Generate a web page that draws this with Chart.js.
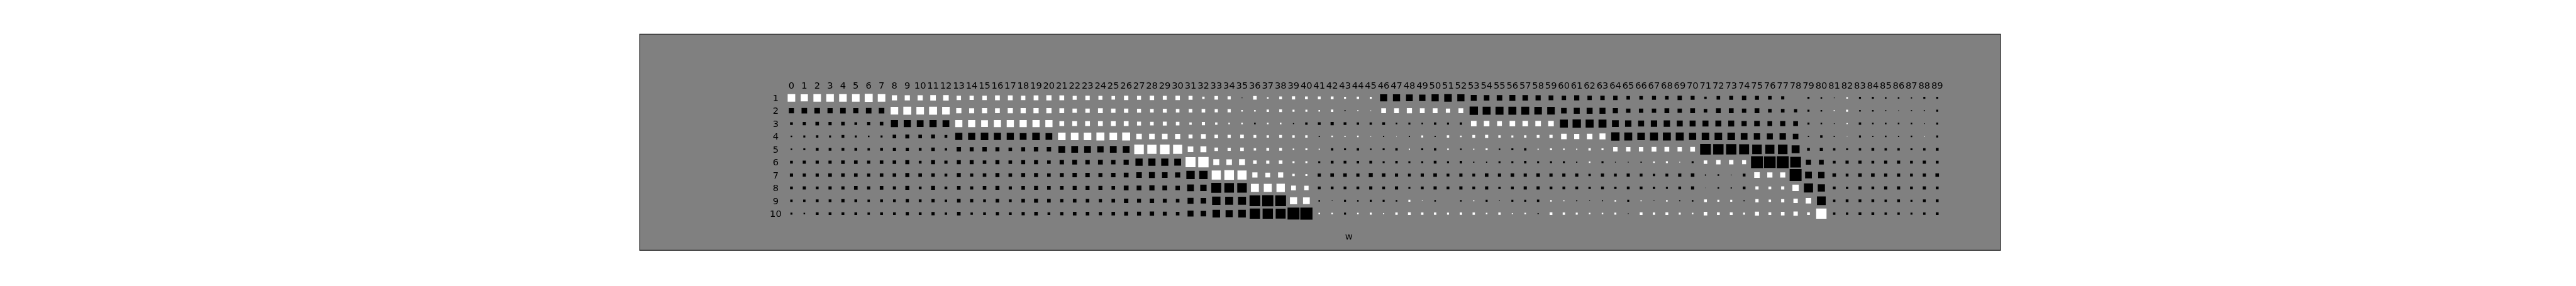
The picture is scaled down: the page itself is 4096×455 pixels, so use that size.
<!DOCTYPE html>
<html>
<head>
<meta charset="utf-8">
<script src="https://cdn.jsdelivr.net/npm/chart.js@4/dist/chart.umd.min.js"></script>
<style>
html,body{margin:0;padding:0;background:#ffffff;overflow:hidden}
canvas{display:block}
</style>
</head>
<body>
<canvas id="c" width="4096" height="455"></canvas>
<script>
// ---------- data ----------
const columnLabels = ['0','1','2','3','4','5','6','7','8','9','10','11','12','13','14','15','16','17','18','19',
  '20','21','22','23','24','25','26','27','28','29','30','31','32','33','34','35','36','37','38','39',
  '40','41','42','43','44','45','46','47','48','49','50','51','52','53','54','55','56','57','58','59',
  '60','61','62','63','64','65','66','67','68','69','70','71','72','73','74','75','76','77','78','79',
  '80','81','82','83','84','85','86','87','88','89'];
const rowLabels = ['1','2','3','4','5','6','7','8','9','10'];
const axisText = 'w';

// weights, one array per row (positive = white, negative = black)
const row1 = [0.345,0.310,0.345,0.345,0.345,0.345,0.383,0.345, 0.162,0.162,0.162,0.187,0.187,0.116,0.109,
  0.116,0.138,0.138,0.116,0.138,0.162,0.138,0.096,0.116,0.096,0.077,0.116,0.096,0.116,0.096,
  0.116,0.096,0.034,0.077,0.061,-0.004,0.077,0.015,0.047,0.061,0.047,0.047,0.047,0.024,0.034,
  0.024,-0.310,-0.310,-0.276,-0.245,-0.310,-0.345,-0.310,-0.215,-0.187,-0.187,-0.215,-0.187,-0.162,-0.138,
  -0.116,-0.162,-0.116,-0.116,-0.116,-0.077,-0.077,-0.096,-0.077,-0.116,-0.096,-0.034,-0.077,-0.096,-0.116,
  -0.096,-0.077,-0.061,0,-0.024,-0.015,-0.004,0.015,-0.024,-0.024,-0.015,-0.015,-0.009,-0.024,-0.024];
const row2 = [-0.162,-0.187,-0.187,-0.162,-0.187,-0.162,-0.187,-0.187, 0.345,0.383,0.345,0.383,0.345,0.162,0.153,
  0.162,0.138,0.162,0.162,0.162,0.162,0.138,0.116,0.116,0.138,0.116,0.116,0.096,0.077,0.096,
  0.077,0.077,0.077,0.061,0.061,0.015,0.015,0.034,0.047,0.024,0.024,0.015,0.034,-0.009,0.009,
  0.004,0.138,0.138,0.162,0.138,0.138,0.116,0.138,-0.422,-0.383,-0.383,-0.383,-0.383,-0.345,-0.345,
  -0.187,-0.215,-0.215,-0.215,-0.162,-0.116,-0.116,-0.116,-0.138,-0.116,-0.138,-0.077,-0.138,-0.138,-0.116,
  -0.138,-0.077,-0.077,-0.061,-0.024,-0.015,0.009,0.024,-0.015,-0.015,-0.009,-0.004,-0.009,-0.009,-0.024];
const row3 = [-0.047,-0.061,-0.077,-0.061,-0.077,-0.047,-0.061,-0.077, -0.310,-0.310,-0.276,-0.310,-0.276,0.310,0.310,
  0.276,0.310,0.310,0.310,0.310,0.310,0.138,0.138,0.138,0.138,0.138,0.138,0.096,0.077,0.096,
  0.077,0.034,0.061,0.034,0.015,0.015,-0.015,0.015,0.015,-0.009,-0.034,-0.047,-0.061,-0.047,-0.034,
  -0.034,-0.047,-0.015,-0.024,-0.015,-0.034,-0.024,-0.034,0.187,0.187,0.138,0.187,0.187,0.187,0.187,
  -0.383,-0.422,-0.383,-0.383,-0.276,-0.245,-0.215,-0.245,-0.245,-0.215,-0.215,-0.215,-0.215,-0.215,-0.162,
  -0.187,-0.138,-0.162,-0.138,-0.024,-0.015,-0.004,0.009,-0.034,-0.015,-0.015,-0.015,-0.015,-0.004,-0.024];
const row4 = [-0.015,-0.024,-0.034,-0.024,-0.047,-0.024,-0.015,-0.024, -0.077,-0.096,-0.077,-0.096,-0.047,-0.310,-0.310,
  -0.345,-0.310,-0.310,-0.276,-0.345,-0.276,0.345,0.345,0.345,0.383,0.345,0.383,0.187,0.187,0.187,
  0.162,0.096,0.138,0.077,0.061,0.077,0.047,0.034,0.047,0.034,0.034,-0.009,0.015,0.009,0.015,
  0.004,-0.009,0.002,-0.009,0.024,-0.009,0.034,0.015,0.047,0.061,0.034,0.024,0.034,0.047,0.061,
  0.187,0.162,0.187,0.215,-0.422,-0.383,-0.345,-0.383,-0.383,-0.383,-0.310,-0.345,-0.345,-0.345,-0.276,
  -0.245,-0.215,-0.245,-0.187,-0.009,-0.034,-0.009,0.002,-0.024,-0.009,-0.015,-0.009,-0.015,0.004,-0.024];
const row5 = [-0.015,-0.024,-0.047,-0.047,-0.047,-0.047,-0.034,-0.047, -0.061,-0.061,-0.047,-0.077,-0.034,-0.116,-0.096,
  -0.116,-0.096,-0.077,-0.096,-0.116,-0.116,-0.276,-0.276,-0.276,-0.245,-0.276,-0.276,0.551,0.506,0.551,
  0.506,0.187,0.215,0.077,0.061,0.077,0.034,0.047,0.047,0.015,0.024,0.009,-0.034,-0.024,-0.034,
  -0.015,-0.024,-0.034,0.009,-0.024,-0.034,0.015,-0.015,0.009,0.024,-0.015,-0.024,-0.034,0.009,0.024,
  0.015,0.009,0.034,0.024,0.116,0.116,0.116,0.138,0.138,0.116,0.138,-0.697,-0.647,-0.647,-0.598,
  -0.551,-0.506,-0.551,-0.383,-0.047,-0.061,-0.034,-0.024,-0.034,-0.047,-0.034,-0.034,-0.024,-0.034,-0.047];
const row6 = [-0.047,-0.061,-0.061,-0.061,-0.077,-0.077,-0.061,-0.077, -0.077,-0.096,-0.047,-0.096,-0.061,-0.096,-0.096,
  -0.077,-0.096,-0.077,-0.096,-0.096,-0.077,-0.116,-0.138,-0.116,-0.138,-0.116,-0.162,-0.310,-0.310,-0.310,
  -0.276,0.598,0.647,0.215,0.187,0.215,0.077,0.061,0.077,0.024,0.024,-0.024,-0.047,-0.047,-0.034,
  -0.047,-0.024,-0.034,-0.024,-0.024,-0.047,-0.024,-0.034,-0.009,-0.009,-0.024,-0.024,-0.034,-0.024,-0.024,
  -0.024,-0.009,0.015,-0.024,-0.004,-0.004,-0.009,0.015,0.024,0.004,-0.024,0.077,0.116,0.116,0.096,
  -0.861,-0.804,-0.861,-0.697,-0.162,-0.138,-0.047,-0.061,-0.061,-0.047,-0.061,-0.061,-0.047,-0.061,-0.047];
const row7 = [-0.061,-0.061,-0.061,-0.077,-0.077,-0.077,-0.061,-0.077, -0.077,-0.096,-0.077,-0.077,-0.047,-0.096,-0.061,
  -0.077,-0.096,-0.077,-0.096,-0.096,-0.077,-0.096,-0.116,-0.116,-0.096,-0.116,-0.138,-0.187,-0.215,-0.187,
  -0.162,-0.422,-0.422,0.506,0.551,0.506,0.162,0.138,0.162,0.034,0.024,-0.061,-0.077,-0.077,-0.061,
  -0.096,-0.077,-0.061,-0.047,-0.061,-0.077,-0.047,-0.061,-0.047,-0.077,-0.061,-0.077,-0.061,-0.077,-0.061,
  -0.061,-0.061,-0.034,-0.061,-0.047,-0.061,-0.047,-0.034,-0.047,-0.061,-0.077,-0.009,-0.015,-0.004,-0.047,
  0.187,0.162,0.162,-0.861,-0.276,-0.245,-0.077,-0.047,-0.077,-0.077,-0.061,-0.061,-0.047,-0.061,-0.077];
const row8 = [-0.047,-0.061,-0.047,-0.061,-0.061,-0.077,-0.061,-0.077, -0.061,-0.096,-0.047,-0.096,-0.047,-0.077,-0.061,
  -0.077,-0.096,-0.061,-0.077,-0.096,-0.077,-0.077,-0.096,-0.096,-0.096,-0.077,-0.138,-0.138,-0.162,-0.138,
  -0.116,-0.276,-0.245,-0.598,-0.551,-0.551,0.383,0.383,0.422,0.138,0.116,-0.047,-0.047,-0.047,-0.047,
  -0.061,-0.047,-0.061,-0.024,-0.047,-0.061,-0.047,-0.061,-0.047,-0.061,-0.034,-0.047,-0.061,-0.061,-0.047,
  -0.047,-0.047,-0.034,-0.047,-0.034,-0.047,-0.047,-0.034,-0.024,-0.047,-0.061,-0.001,-0.015,-0.009,-0.047,
  0.061,0.047,0.061,0.245,-0.506,-0.310,-0.047,-0.034,-0.061,-0.047,-0.061,-0.061,-0.047,-0.061,-0.047];
const row9 = [-0.034,-0.034,-0.047,-0.047,-0.061,-0.047,-0.034,-0.047, -0.047,-0.061,-0.047,-0.061,-0.034,-0.077,-0.061,
  -0.047,-0.077,-0.047,-0.077,-0.096,-0.077,-0.061,-0.077,-0.077,-0.061,-0.077,-0.116,-0.096,-0.116,-0.096,
  -0.077,-0.215,-0.187,-0.422,-0.383,-0.383,-0.697,-0.750,-0.697,0.310,0.276,-0.015,-0.004,-0.024,-0.015,
  -0.024,-0.024,-0.015,0.024,0.004,-0.015,0,-0.015,0.009,-0.024,-0.004,-0.024,-0.024,-0.034,0.015,
  0.009,-0.009,-0.004,-0.009,0.015,-0.024,0.009,-0.004,0.015,-0.009,-0.015,0.047,0.024,0.024,-0.009,
  0.061,0.034,0.061,0.116,0.187,-0.463,-0.034,-0.047,-0.047,-0.047,-0.034,-0.047,-0.024,-0.047,-0.047];
const row10 = [-0.024,-0.015,-0.047,-0.047,-0.047,-0.047,-0.034,-0.047, -0.047,-0.061,-0.047,-0.061,-0.034,-0.077,-0.034,
  -0.047,-0.061,-0.047,-0.061,-0.077,-0.047,-0.061,-0.077,-0.077,-0.061,-0.077,-0.096,-0.096,-0.116,-0.096,
  -0.077,-0.215,-0.187,-0.345,-0.310,-0.345,-0.647,-0.647,-0.598,-0.861,-0.900,0.015,0.015,-0.024,0.015,
  0.024,0.009,0.034,0.047,0.034,0.034,0.024,0.034,0.034,0.015,0.034,0.009,0.015,-0.009,0.047,
  0.034,0.024,0.015,0.015,0.024,-0.004,0.047,0.034,0.047,0.024,0.015,0.077,0.047,0.047,0.024,
  0.096,0.047,0.077,0.116,0.047,0.647,-0.034,-0.034,-0.047,-0.047,-0.034,-0.034,-0.024,-0.034,-0.047];
const weightRows = [row1,row2,row3,row4,row5,row6,row7,row8,row9,row10];
const maxWeight = 1;

// ---------- build points ----------
const points = [];
weightRows.forEach((row, ri) => {
  row.forEach((w, ci) => {
    points.push({ x: Number(columnLabels[ci]), y: Number(rowLabels[ri]), w: w });
  });
});

const FONT = '14.7px "DejaVu Sans", sans-serif';
const FS = 14.7;

const panelPlugin = {
  id: 'panel',
  beforeDraw(chart) {
    const { ctx, chartArea: a } = chart;
    ctx.save();
    ctx.fillStyle = '#808080';
    ctx.fillRect(a.left, a.top, a.right - a.left, a.bottom - a.top);
    ctx.restore();
  },
  afterDraw(chart) {
    const { ctx, chartArea: a, scales } = chart;
    const xs = scales.x, ys = scales.y;
    ctx.save();
    ctx.fillStyle = '#000000';
    ctx.font = FONT;
    ctx.textAlign = 'center';
    ctx.textBaseline = 'alphabetic';
    const digitOff = 0.3645 * FS;
    // column labels (at row 0)
    columnLabels.forEach(lbl => {
      ctx.fillText(lbl, xs.getPixelForValue(Number(lbl)), ys.getPixelForValue(0.02) + digitOff);
    });
    // row labels (at column -1.22)
    rowLabels.forEach(lbl => {
      ctx.fillText(lbl, xs.getPixelForValue(-1.22), ys.getPixelForValue(Number(lbl)) + digitOff);
    });
    // bottom text
    ctx.fillText(axisText, xs.getPixelForValue(43.3), ys.getPixelForValue(11.8) + 0.273 * FS);
    // frame
    ctx.strokeStyle = '#1e1e1e';
    ctx.lineWidth = 1.2;
    ctx.strokeRect(a.left, a.top, a.right - a.left, a.bottom - a.top);
    ctx.restore();
  }
};

new Chart(document.getElementById('c'), {
  type: 'scatter',
  data: {
    datasets: [{
      data: points,
      pointStyle: 'rect',
      borderWidth: 0,
      pointBorderWidth: 0,
      backgroundColor: ctx => (ctx.raw && ctx.raw.w > 0) ? '#ffffff' : '#000000',
      pointBackgroundColor: ctx => (ctx.raw && ctx.raw.w > 0) ? '#ffffff' : '#000000',
      pointRadius: ctx => {
        if (!ctx.raw) return 0;
        const sx = ctx.chart.scales.x;
        const cell = Math.abs(sx.getPixelForValue(1) - sx.getPixelForValue(0));
        const side = Math.sqrt(Math.abs(ctx.raw.w) / maxWeight) * cell;
        return side / Math.SQRT2;
      },
      pointHoverRadius: 0
    }]
  },
  options: {
    responsive: false,
    animation: false,
    devicePixelRatio: 1,
    events: [],
    layout: { padding: { left: 1017.1, right: 915.0, top: 54.35, bottom: 56.8 } },
    plugins: { legend: { display: false }, tooltip: { enabled: false } },
    scales: {
      x: { type: 'linear', min: -11.79, max: 93.92, display: false },
      y: { type: 'linear', min: -3.95, max: 12.85, reverse: true, display: false }
    }
  },
  plugins: [panelPlugin]
});
</script>
</body>
</html>
